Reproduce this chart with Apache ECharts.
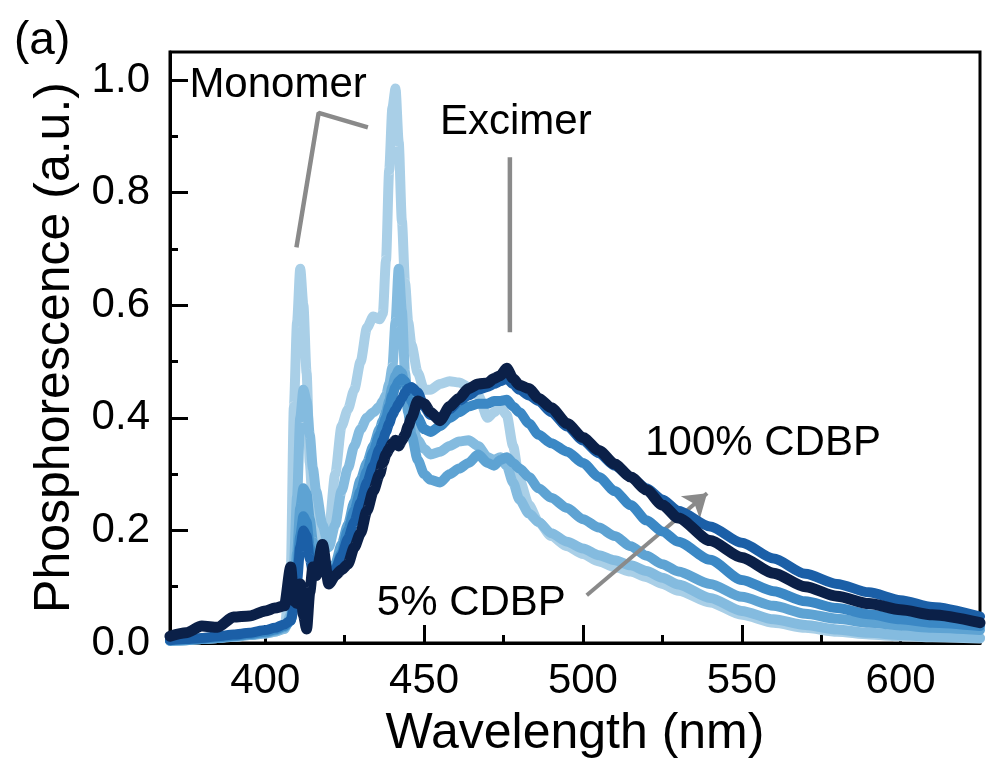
<!DOCTYPE html>
<html><head><meta charset="utf-8">
<script src="https://cdn.jsdelivr.net/npm/echarts@6/dist/echarts.min.js"></script>
<style>html,body{margin:0;padding:0;background:#fff}#chart{width:1008px;height:776px}</style>
</head><body><div id="chart"></div>
<script>
const wavelength = [370,375,380,385,390,395,400,403,406,
  408,409,410,411,412,413,414,415,416,
  418,420,422,424,426,428,430,432,434,436,
  437,438,439,440,441,442,443,444,445,446,
  448,450,452,
  455,458,461,464,467,470,
  472,474,476,478,480,
  483,486,490,495,500,
  505,510,515,520,525,530,
  540,550,560,570,580,590,600,610,625];

const conc1 = [.004,.005,.007,.009,.011,.014,.017,.02,.026,
  .12,.42,.57,.665,.60,.48,.32,.24,.20,
  .175,.20,.30,.385,.415,.45,.50,.56,.58,.575,
  .585,.68,.84,.95,.985,.89,.75,.64,.57,.53,
  .48,.45,.45,
  .46,.465,.463,.455,.44,.40,
  .41,.42,.405,.35,.29,
  .245,.215,.19,.172,.158,
  .145,.135,.127,.117,.105,.093,
  .072,.05,.036,.027,.02,.015,.012,.01,.008];

const conc2 = [.004,.005,.007,.009,.011,.014,.017,.02,.025,
  .05,.14,.26,.40,.45,.43,.37,.31,.27,
  .21,.17,.21,.27,.31,.35,.38,.40,.41,.42,
  .43,.44,.46,.49,.57,.665,.59,.48,.42,.39,
  .36,.345,.335,
  .34,.35,.358,.36,.35,.33,
  .325,.33,.315,.285,.255,
  .23,.215,.195,.18,.168,
  .156,.147,.138,.128,.116,.104,
  .08,.057,.042,.032,.024,.018,.014,.011,.009];

const conc3 = [.004,.005,.007,.009,.012,.015,.018,.022,.028,
  .04,.08,.16,.24,.275,.265,.22,.18,.155,
  .14,.12,.14,.175,.21,.25,.29,.32,.35,.38,
  .395,.41,.43,.455,.475,.485,.48,.45,.41,.37,
  .325,.30,.29,
  .285,.30,.31,.32,.335,.32,
  .315,.325,.33,.32,.31,
  .295,.275,.258,.24,.22,
  .205,.19,.172,.155,.14,.127,
  .105,.082,.066,.052,.043,.036,.031,.027,.023];

const conc4 = [.005,.006,.008,.01,.013,.016,.02,.024,.03,
  .04,.07,.13,.19,.225,.215,.17,.14,.145,
  .15,.12,.13,.16,.2,.235,.27,.305,.34,.37,
  .385,.40,.42,.44,.455,.465,.47,.465,.45,.43,
  .40,.38,.375,
  .385,.40,.41,.42,.425,.425,
  .43,.43,.432,.42,.41,
  .39,.37,.355,.34,.32,
  .295,.27,.245,.218,.198,.18,
  .148,.112,.092,.074,.062,.051,.042,.036,.03];

const conc5 = [.005,.007,.009,.012,.015,.018,.023,.027,.033,
  .04,.06,.11,.17,.2,.19,.15,.125,.135,
  .16,.125,.13,.155,.185,.215,.25,.285,.315,.345,
  .36,.375,.39,.405,.415,.425,.435,.445,.452,.455,
  .445,.42,.405,
  .40,.415,.43,.44,.45,.455,
  .46,.465,.47,.46,.45,
  .44,.43,.41,.385,.36,
  .337,.315,.295,.275,.255,.235,
  .207,.178,.15,.123,.105,.09,.076,.064,.047];

const conc6 = [.012,.018,.03,.028,.046,.048,.057,.062,.066,
  .135,.075,.07,.105,.05,.025,.09,.135,.12,
  .175,.105,.12,.13,.14,.17,.195,.235,.27,.3,
  .32,.335,.345,.355,.36,.35,.36,.37,.385,.40,
  .43,.425,.41,
  .395,.42,.435,.452,.46,.462,
  .47,.475,.488,.47,.458,
  .452,.435,.418,.39,.365,
  .342,.318,.295,.272,.245,.222,
  .182,.152,.124,.1,.083,.07,.059,.05,.036];

const seriesNames = ['5% CDBP','CDBP 2','CDBP 3','CDBP 4','CDBP 5','100% CDBP'];
const seriesValues = [conc1, conc2, conc3, conc4, conc5, conc6];
const seriesColors = ['#a9cfe7','#84bbdf','#5ea3d3','#3b88c5','#1b5fa7','#0b2048'];

const xTicks = [400,450,500,550,600];
const xMinorTicks = [375,425,475,525,575];
const yTicks = [0,0.2,0.4,0.6,0.8,1.0];
const yMinorTicks = [0.1,0.3,0.5,0.7,0.9];

const monomerPointer = [[409.8,0.703],[416.8,0.942],[432.3,0.916]];
const excimerPointer = [[477,0.863],[477,0.552]];
const trendArrow = [[501.2,0.085],[539.1,0.266]];
const annotationTexts = [
  {text:'Monomer', at:[376.1,0.991]},
  {text:'Excimer', at:[455.0,0.924]},
  {text:'100% CDBP', at:[519.6,0.355]},
  {text:'5% CDBP', at:[435.1,0.071]}
];

const FONT = '"Liberation Sans", Arial, Helvetica, sans-serif';
const chart = echarts.init(document.getElementById('chart'), null, {renderer:'canvas'});

const xMin = 370, xMax = 625, yMin = 0, yMax = 1.05;

const dataSeries = seriesValues.map((vals, k) => ({
  name: seriesNames[k],
  type: 'line',
  xAxisIndex: 0, yAxisIndex: 0,
  data: wavelength.map((w, i) => [w, vals[i]]),
  showSymbol: false,
  smooth: 0.25,
  smoothMonotone: 'x',
  lineStyle: {color: seriesColors[k], width: k === 5 ? 11 : 10, cap: 'round', join: 'round'},
  itemStyle: {color: seriesColors[k]},
  z: 2 + k,
  silent: true
}));

const grey = '#8a8a8a';

chart.setOption({
  animation: false,
  backgroundColor: '#fff',
  grid: {left: 170, right: 28, top: 52, bottom: 133, show: true, borderColor: '#000', borderWidth: 3, backgroundColor: 'transparent'},
  xAxis: [
    {type: 'value', min: xMin, max: xMax, position: 'bottom',
      axisLine: {show: true, lineStyle: {color: '#000', width: 3}},
      axisTick: {show: true, inside: true, length: 18, customValues: xTicks, lineStyle: {color: '#000', width: 3}},
      axisLabel: {show: true, customValues: xTicks, fontSize: 42, fontFamily: FONT, color: '#000', margin: 17},
      splitLine: {show: false},
      name: 'Wavelength (nm)', nameLocation: 'middle', nameGap: 66,
      nameTextStyle: {fontSize: 50, fontFamily: FONT, color: '#000'}
    },
    {type: 'value', min: xMin, max: xMax, position: 'bottom',
      axisLine: {show: false},
      axisTick: {show: true, inside: true, length: 8, customValues: xMinorTicks, lineStyle: {color: '#000', width: 3}},
      axisLabel: {show: false},
      splitLine: {show: false}
    }
  ],
  yAxis: [
    {type: 'value', min: yMin, max: yMax, position: 'left',
      axisLine: {show: true, lineStyle: {color: '#000', width: 3}},
      axisTick: {show: true, inside: true, length: 18, customValues: yTicks, lineStyle: {color: '#000', width: 3}},
      axisLabel: {show: true, customValues: yTicks, fontSize: 42, fontFamily: FONT, color: '#000', margin: 20,
        formatter: v => Number(v).toFixed(1)},
      splitLine: {show: false},
      name: 'Phosphorescence (a.u.)', nameLocation: 'middle', nameGap: 88,
      nameTextStyle: {fontSize: 50, fontFamily: FONT, color: '#000'}
    },
    {type: 'value', min: yMin, max: yMax, position: 'left',
      axisLine: {show: false},
      axisTick: {show: true, inside: true, length: 8, customValues: yMinorTicks, lineStyle: {color: '#000', width: 3}},
      axisLabel: {show: false},
      splitLine: {show: false}
    }
  ],
  series: dataSeries.concat([
    {type: 'line', name: 'monomerPointer', xAxisIndex: 0, yAxisIndex: 0,
      data: monomerPointer, showSymbol: false, silent: true, z: 20,
      lineStyle: {color: grey, width: 4.5}},
    {type: 'line', name: 'excimerPointer', xAxisIndex: 0, yAxisIndex: 0,
      data: excimerPointer, showSymbol: false, silent: true, z: 20,
      lineStyle: {color: grey, width: 4.5},
      markLine: {silent: true, symbol: ['none', 'arrow'], symbolSize: 22,
        lineStyle: {color: grey, width: 4, type: 'solid'}, label: {show: false},
        emphasis: {disabled: true},
        data: [[{coord: trendArrow[0]}, {coord: trendArrow[1]}]]}
    }
  ])
});

const toPx = pt => chart.convertToPixel({xAxisIndex: 0, yAxisIndex: 0}, pt);
const graphics = annotationTexts.map(a => {
  const p = toPx(a.at);
  return {type: 'text', x: p[0], y: p[1], z: 100, silent: true,
    style: {text: a.text, fontSize: 42, fontFamily: FONT, fill: '#000', textAlign: 'left', textVerticalAlign: 'middle'}};
});
graphics.push({type: 'text', left: 14, top: 18, z: 100, silent: true,
  style: {text: '(a)', fontSize: 46, fontFamily: FONT, fill: '#000'}});
chart.setOption({graphic: graphics});
</script>
</body></html>
